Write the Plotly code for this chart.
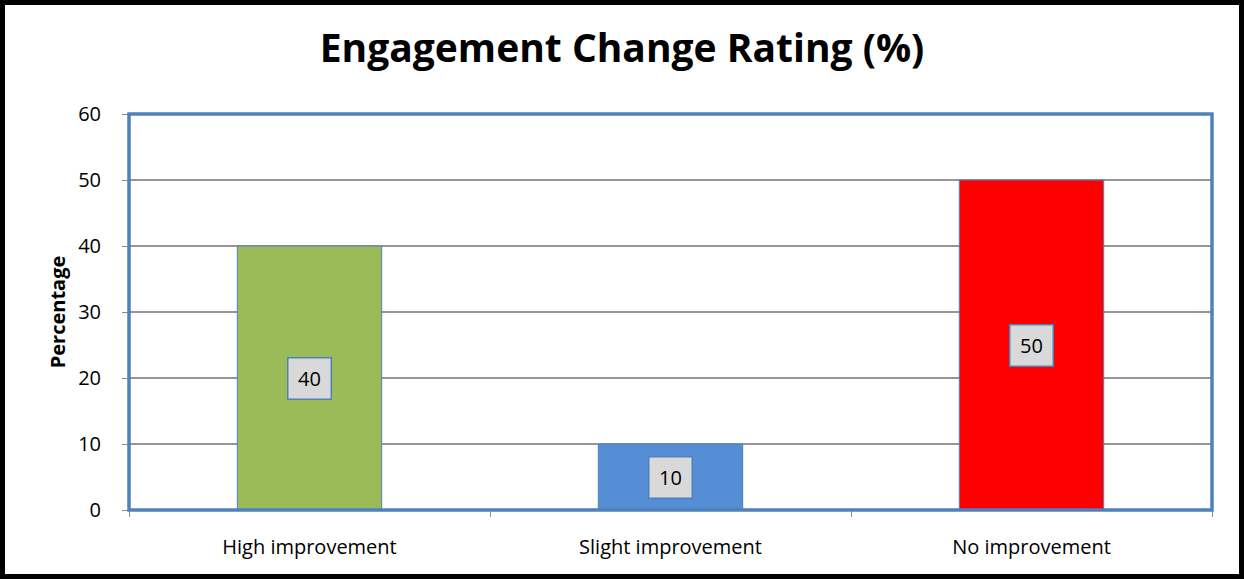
import plotly.graph_objects as go

categories = ["High improvement", "Slight improvement", "No improvement"]
values = [40, 10, 50]
bar_colors = ["#9BBB59", "#558ED5", "#FF0000"]
y_ticks = [0, 10, 20, 30, 40, 50, 60]

W, H = 1244, 579
L, R, T, B = 129, 32, 114, 69
pw, ph = W - L - R, H - T - B

FONT = "Open Sans"

def px_x(p):
    return (p - L) / pw

def px_y(p):
    return (H - B - p) / ph

fig = go.Figure()
fig.add_trace(go.Bar(
    x=categories, y=values,
    marker=dict(color=bar_colors, line=dict(color="#4F81BD", width=1)),
    width=0.4,
    hoverinfo="skip",
))

for c, v in zip(categories, values):
    fig.add_annotation(
        x=c, y=v / 2, text=str(v), showarrow=False,
        font=dict(family=FONT, size=20, color="#000000"),
        bgcolor="#D9D9D9", bordercolor="#4F81BD", borderwidth=1.5, borderpad=1,
        width=40, height=38,
    )

# plot area border
fig.add_shape(type="rect", xref="paper", yref="paper", x0=0, x1=1, y0=0, y1=1,
              line=dict(color="#4F81BD", width=3.5), layer="above")
# outer chart border
fig.add_shape(type="rect", xref="paper", yref="paper",
              x0=px_x(2.5), x1=px_x(W - 2.5),
              y0=px_y(H - 2.5), y1=px_y(2.5),
              line=dict(color="#000000", width=5), layer="above")

fig.update_layout(
    width=W, height=H,
    margin=dict(l=L, r=R, t=T, b=B),
    paper_bgcolor="#FFFFFF", plot_bgcolor="#FFFFFF",
    showlegend=False,
    title=dict(text="<b>Engagement Change Rating (%)</b>", x=0.5, xanchor="center",
               y=1 - 48 / H, yanchor="middle", yref="container",
               font=dict(family=FONT, size=39, color="#000000")),
    font=dict(family=FONT, size=20, color="#000000"),
)
fig.update_xaxes(
    tickson="boundaries", ticks="outside", ticklen=6, tickcolor="#8C8C8C",
    showline=False, showgrid=False, ticklabelstandoff=23,
    tickfont=dict(family=FONT, size=20, color="#000000"),
)
fig.update_yaxes(
    range=[0, 60], tickvals=y_ticks, ticks="outside", ticklen=6, tickcolor="#8C8C8C",
    showgrid=True, gridcolor="#969696", gridwidth=1.5, zeroline=False, showline=False,
    ticklabelstandoff=17,
    tickfont=dict(family=FONT, size=20, color="#000000"),
    title=dict(text="<b>Percentage</b>", font=dict(family=FONT, size=20, color="#000000"), standoff=7),
)

fig.write_html("out.html", config={"displayModeBar": False},
               post_script="document.body.style.margin='0';document.body.style.padding='0';")
